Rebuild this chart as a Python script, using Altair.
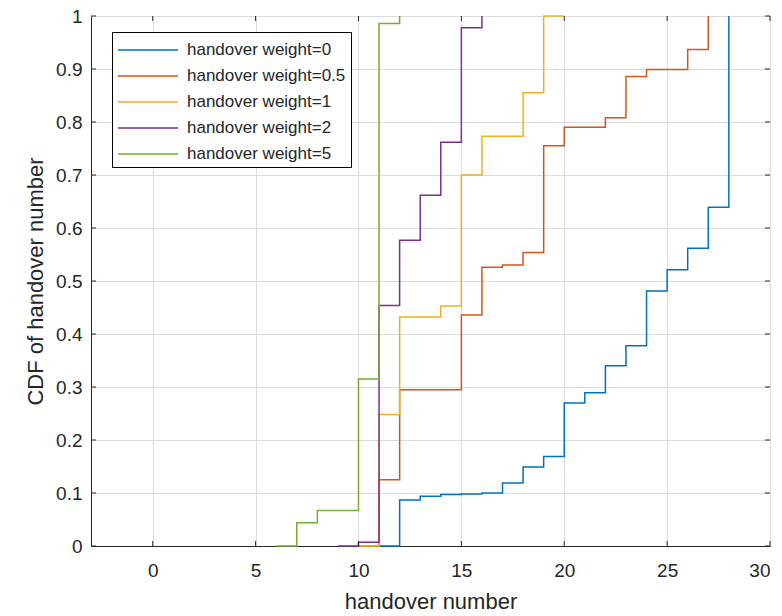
import altair as alt
import pandas as pd

labels = ["handover weight=0", "handover weight=0.5", "handover weight=1",
          "handover weight=2", "handover weight=5"]
colors = ["#0072BD", "#D95319", "#EDB120", "#7E2F8E", "#77AC30"]

w0_x = [11, 12, 13, 14, 15, 16, 17, 18, 19, 20, 21, 22, 23, 24, 25, 26, 27, 28]
w0_y = [0, 0.087, 0.094, 0.097, 0.098, 0.100, 0.119, 0.149, 0.169, 0.270,
        0.289, 0.340, 0.378, 0.481, 0.521, 0.562, 0.639, 1.0]

w05_x = [10, 11, 12, 15, 16, 17, 18, 19, 20, 22, 23, 24, 26, 27]
w05_y = [0, 0.125, 0.295, 0.436, 0.526, 0.530, 0.554, 0.755, 0.790, 0.808,
         0.886, 0.899, 0.937, 1.0]

w1_x = [10, 11, 12, 14, 15, 16, 18, 19, 20]
w1_y = [0, 0.248, 0.432, 0.453, 0.700, 0.773, 0.855, 1.0, 1.0]

w2_x = [9, 10, 11, 12, 13, 14, 15, 16]
w2_y = [0, 0.007, 0.454, 0.577, 0.662, 0.762, 0.978, 1.0]

w5_x = [6, 7, 8, 10, 11, 12]
w5_y = [0, 0.044, 0.067, 0.315, 0.986, 1.0]

x_ticks = [0, 5, 10, 15, 20, 25, 30]
y_ticks = [0, 0.1, 0.2, 0.3, 0.4, 0.5, 0.6, 0.7, 0.8, 0.9, 1.0]

rows = []
for lab, xs, ys in zip(labels, [w0_x, w05_x, w1_x, w2_x, w5_x],
                       [w0_y, w05_y, w1_y, w2_y, w5_y]):
    for i, (xv, yv) in enumerate(zip(xs, ys)):
        rows.append({"series": lab, "x": xv, "y": yv, "i": i})
df = pd.DataFrame(rows)

W, H = 679, 530
FONT = "Liberation Sans"
TXT = "#262626"

xscale = alt.Scale(domain=[-3, 30], nice=False, zero=False)
yscale = alt.Scale(domain=[0, 1], nice=False)

xaxis = alt.Axis(values=x_ticks, title="handover number", grid=True,
                 gridColor="#dcdcdc", ticks=False, tickSize=0,
                 labelFontSize=19, labelPadding=15, labelColor=TXT,
                 labelFont=FONT, domainColor=TXT, titleFont=FONT,
                 titleFontSize=22, titleFontWeight="normal", titleColor=TXT,
                 titleY=62, titleBaseline="alphabetic")
yaxis = alt.Axis(values=y_ticks, title="CDF of handover number", grid=True,
                 gridColor="#dcdcdc", ticks=False, tickSize=0, format=".1~f",
                 labelFontSize=19, labelPadding=9, labelColor=TXT,
                 labelFont=FONT, domainColor=TXT, titleFont=FONT,
                 titleFontSize=22, titleFontWeight="normal", titleColor=TXT,
                 titleX=-56, titleY=H / 2, titleBaseline="middle")

lines = alt.Chart(df).mark_line(interpolate="step-after", strokeWidth=1.5).encode(
    x=alt.X("x:Q", scale=xscale, axis=xaxis),
    y=alt.Y("y:Q", scale=yscale, axis=yaxis),
    color=alt.Color("series:N", scale=alt.Scale(domain=labels, range=colors),
                    legend=alt.Legend(title=None, orient="none", legendX=21,
                                      legendY=16, strokeColor="black",
                                      fillColor="white", padding=5,
                                      symbolType="M-2.5,0H2.5", symbolSize=576,
                                      symbolOffset=18,
                                      symbolStrokeWidth=1.5,
                                      labelFontSize=17, labelFont=FONT,
                                      labelColor=TXT, labelOffset=26,
                                      rowPadding=5, offset=0)),
    detail="series:N",
    order="i:Q",
)

xt = pd.DataFrame({"x": x_ticks})
yt = pd.DataFrame({"y": y_ticks})

bt = alt.Chart(xt).mark_rule(color=TXT, strokeWidth=1).encode(
    x=alt.X("x:Q", scale=xscale, axis=xaxis), y=alt.value(H), y2=alt.value(H - 5))
tt = alt.Chart(xt).mark_rule(color=TXT, strokeWidth=1).encode(
    x=alt.X("x:Q", scale=xscale, axis=xaxis), y=alt.value(0), y2=alt.value(5))
lt = alt.Chart(yt).mark_rule(color=TXT, strokeWidth=1).encode(
    y=alt.Y("y:Q", scale=yscale, axis=yaxis), x=alt.value(0), x2=alt.value(5))
rt = alt.Chart(yt).mark_rule(color=TXT, strokeWidth=1).encode(
    y=alt.Y("y:Q", scale=yscale, axis=yaxis), x=alt.value(W), x2=alt.value(W - 5))

chart = alt.layer(lines, bt, tt, lt, rt).properties(
    width=W, height=H,
    autosize=alt.AutoSizeParams(type="none"),
    padding={"left": 83, "top": 8, "right": 4, "bottom": 68},
).configure_view(stroke=TXT, strokeWidth=1).configure(background="white")

chart.save("out.html", embed_options={"renderer": "svg", "actions": False})
